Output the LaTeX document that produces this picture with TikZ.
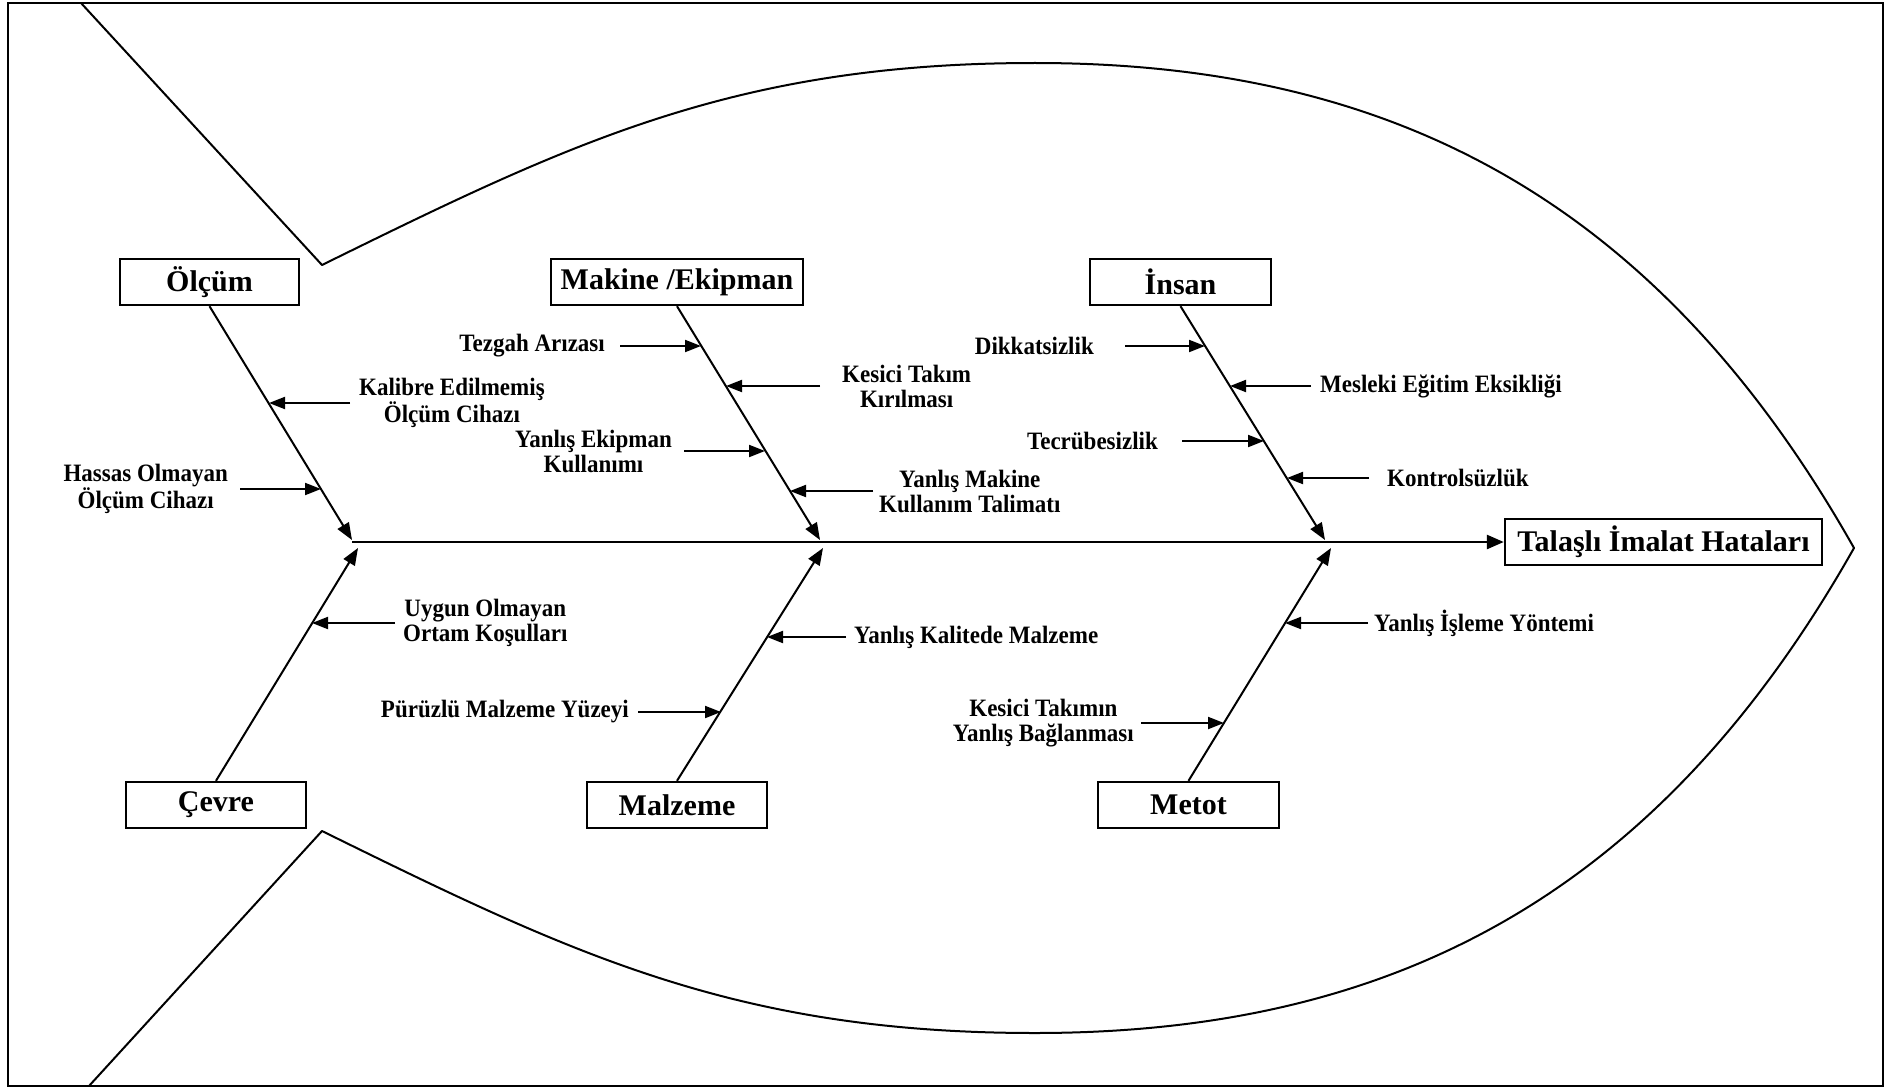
\documentclass[tikz,border=0pt]{standalone}
\usepackage{fontspec}
\setmainfont{Liberation Serif}
\newfontfamily\narrowserif{Liberation Serif}[FakeStretch=0.92]
\usetikzlibrary{arrows.meta,calc}
\begin{document}
\begin{tikzpicture}[x=1pt,y=-1pt,
  catbox/.style={draw, line width=2.4pt, minimum height=46pt, inner sep=0pt,
    font=\fontsize{30}{32}\selectfont\bfseries},
  cause/.style={align=center, inner ysep=0pt,
    font=\narrowserif\fontsize{25}{25}\selectfont\bfseries},
  bone/.style={line width=2pt, -{Triangle[length=17pt,width=13pt]}},
  spine/.style={line width=2.6pt, -{Triangle[length=17pt,width=14pt]}},
  sub/.style={line width=2pt, -{Triangle[length=16pt,width=12pt]}},
  outline/.style={line width=2pt, line join=round, line cap=round}
]
\useasboundingbox (0,0) rectangle (1890,1089);

% frame
\draw[line width=2.5pt] (8,3) rectangle (1883,1086);

% fish outline: tail and body
\draw[outline] (81,3) -- (322,265);
\draw[outline] (322,831) -- (89,1086);
\draw[outline] (322,265) .. controls (572,142) and (735,63) .. (1035,63)
                         .. controls (1385,63) and (1654,194) .. (1854,548);
\draw[outline] (322,831) .. controls (572,954) and (735,1033) .. (1035,1033)
                         .. controls (1385,1033) and (1654,902) .. (1854,548);

% effect and categories
\node[catbox, minimum width=317pt] (head) at (1663.5,542) {Talaşlı İmalat Hataları};
\node[catbox, minimum width=179pt] (olc) at (209.5,282) {Ölçüm};
\node[catbox, minimum width=252pt] (mak) at (677,282) {Makine /Ekipman};
\node[catbox, minimum width=181pt] (ins) at (1180.5,282) {İnsan};
\node[catbox, minimum width=180pt] (cev) at (216,805) {Çevre};
\node[catbox, minimum width=180pt] (mal) at (677,805) {Malzeme};
\node[catbox, minimum width=181pt] (met) at (1188.5,805) {Metot};

% spine and bones
\coordinate (s0) at (352,542);
\coordinate (jO) at (352,540);
\coordinate (jM) at (820,540);
\coordinate (jI) at (1325,540);
\coordinate (jC) at (358,548);
\coordinate (jZ) at (823,548);
\coordinate (jT) at (1331,548);
\draw[spine] (s0) -- (s0 -| head.west);
\draw[bone] (olc.south) -- (jO);
\draw[bone] (mak.south) -- (jM);
\draw[bone] (ins.south) -- (jI);
\draw[bone] (cev.north) -- (jC);
\draw[bone] (mal.north) -- (jZ);
\draw[bone] (met.north) -- (jT);

% points on the bones
\coordinate (k1) at (269,403);
\coordinate (k2) at (321,489);
\coordinate (k3) at (701,346);
\coordinate (k4) at (726,386);
\coordinate (k5) at (765,451);
\coordinate (k6) at (790,491);
\coordinate (k7) at (1205,346);
\coordinate (k8) at (1230,386);
\coordinate (k9) at (1264,441);
\coordinate (k10) at (1287,478);
\coordinate (k11) at (312,623);
\coordinate (k12) at (721,712);
\coordinate (k13) at (767,637);
\coordinate (k14) at (1224,723);
\coordinate (k15) at (1285,623);

% causes
\node[cause, anchor=west, inner xsep=9pt]  (t1) at (350,403) {Kalibre Edilmemiş\\Ölçüm Cihazı};
\node[cause, anchor=east, inner xsep=12pt] (t2) at (240,489) {Hassas Olmayan\\Ölçüm Cihazı};
\node[cause, anchor=east, inner xsep=15pt] (t3) at (620,346) {Tezgah Arızası};
\node[cause, anchor=west, inner xsep=22pt] (t4) at (820,386) {Kesici Takım\\Kırılması};
\node[cause, anchor=east, inner xsep=12pt] (t5) at (684,451) {Yanlış Ekipman\\Kullanımı};
\node[cause, anchor=west, inner xsep=6pt]  (t6) at (873,491) {Yanlış Makine\\Kullanım Talimatı};
\node[cause, anchor=east, inner xsep=31pt] (t7) at (1125,346) {Dikkatsizlik};
\node[cause, anchor=west, inner xsep=9pt]  (t8) at (1311,386) {Mesleki Eğitim Eksikliği};
\node[cause, anchor=east, inner xsep=24pt] (t9) at (1182,441) {Tecrübesizlik};
\node[cause, anchor=west, inner xsep=18pt] (t10) at (1369,478) {Kontrolsüzlük};
\node[cause, anchor=west, inner xsep=8pt]  (t11) at (395,623) {Uygun Olmayan\\Ortam Koşulları};
\node[cause, anchor=east, inner xsep=9pt]  (t12) at (638,712) {Pürüzlü Malzeme Yüzeyi};
\node[cause, anchor=west, inner xsep=8pt]  (t13) at (846,637) {Yanlış Kalitede Malzeme};
\node[cause, anchor=east, inner xsep=7pt]  (t14) at (1141,723) {Kesici Takımın\\Yanlış Bağlanması};
\node[cause, anchor=west, inner xsep=6pt]  (t15) at (1368,623) {Yanlış İşleme Yöntemi};

\draw[sub] (t1.west) -- (k1);
\draw[sub] (t2.east) -- (k2);
\draw[sub] (t3.east) -- (k3);
\draw[sub] (t4.west) -- (k4);
\draw[sub] (t5.east) -- (k5);
\draw[sub] (t6.west) -- (k6);
\draw[sub] (t7.east) -- (k7);
\draw[sub] (t8.west) -- (k8);
\draw[sub] (t9.east) -- (k9);
\draw[sub] (t10.west) -- (k10);
\draw[sub] (t11.west) -- (k11);
\draw[sub] (t12.east) -- (k12);
\draw[sub] (t13.west) -- (k13);
\draw[sub] (t14.east) -- (k14);
\draw[sub] (t15.west) -- (k15);
\end{tikzpicture}
\end{document}
